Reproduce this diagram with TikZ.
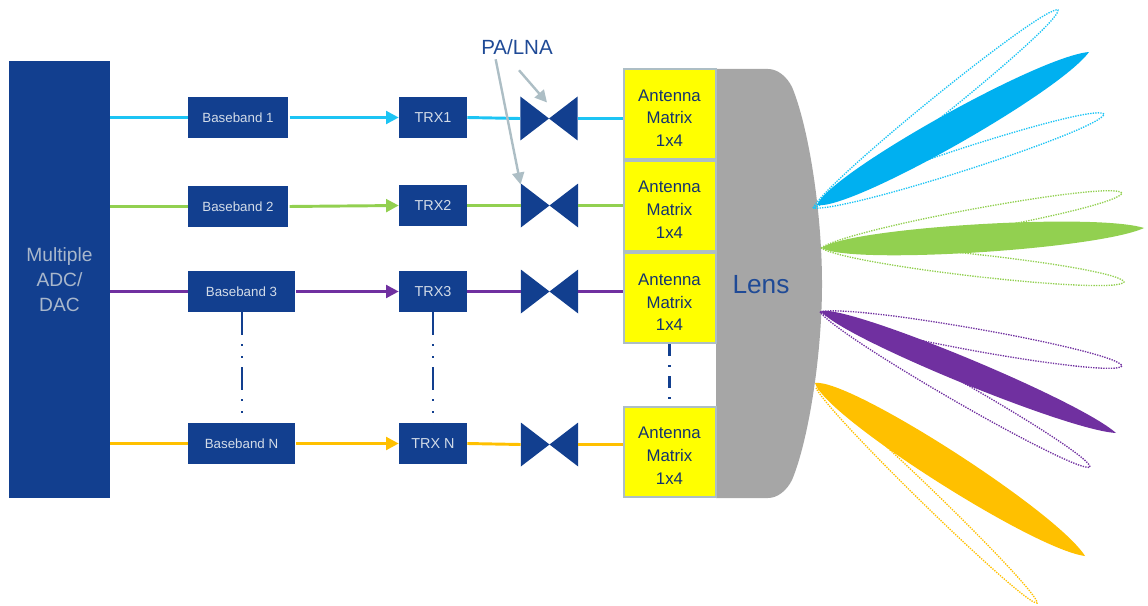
\documentclass[tikz,border=0pt]{standalone}
\usepackage{fontspec}
\setmainfont{Liberation Sans}
\usepackage{tikz}
\usetikzlibrary{positioning,arrows.meta,calc}

\definecolor{boxblue}{HTML}{123F8F}
\definecolor{boxtext}{HTML}{D3DCE8}
\definecolor{adctext}{HTML}{A9B7CB}
\definecolor{labelblue}{HTML}{1F4A96}
\definecolor{antblue}{HTML}{14336F}
\definecolor{antyellow}{HTML}{FFFF00}
\definecolor{paleline}{HTML}{ADBEC5}
\definecolor{lensgray}{HTML}{A6A6A6}
\definecolor{bluefeed}{HTML}{1CC4F4}
\definecolor{bluelobe}{HTML}{00B0F0}
\definecolor{greenlobe}{HTML}{92D050}
\definecolor{purplelobe}{HTML}{7030A0}
\definecolor{orangelobe}{HTML}{FFC000}

% filled leaf: start, tip, bulge
\newcommand{\lobepath}[3]{#1 .. controls ($#1!0.08!#2!#3!90:#2$) and ($#1!0.85!#2!#3!90:#2$) .. #2
  .. controls ($#1!0.85!#2!#3!-90:#2$) and ($#1!0.08!#2!#3!-90:#2$) .. #1 -- cycle}
% dotted outline, round at the far end
\newcommand{\beampath}[3]{#1 .. controls ($#1!0.1!#2!#3!90:#2$) and ($#1!0.98!#2!#3!90:#2$) .. #2
  .. controls ($#1!0.98!#2!#3!-90:#2$) and ($#1!0.1!#2!#3!-90:#2$) .. #1 -- cycle}

\begin{document}
\begin{tikzpicture}[x=0.75pt,y=-0.75pt,
  block/.style={fill=boxblue,text=boxtext,inner sep=0pt,align=center},
  bbbox/.style={block,minimum height=30.5pt,font=\fontsize{10}{12}\selectfont},
  trxbox/.style={block,minimum width=51pt,minimum height=30.5pt,font=\fontsize{10.8}{13}\selectfont},
  antbox/.style={draw=paleline,line width=1.5pt,fill=antyellow,text=antblue,minimum width=69pt,minimum height=67.5pt,
    inner sep=0pt,align=center,font=\fontsize{12.6}{17}\selectfont},
  bowtie/.style={minimum width=43pt,minimum height=33pt,inner sep=0pt,
    path picture={\fill[boxblue] (path picture bounding box.north west) -- (path picture bounding box.south east)
      -- (path picture bounding box.north east) -- (path picture bounding box.south west) -- cycle;}},
  feed/.style={line width=2.2pt},
  feedarrow/.style={feed,-{Triangle[length=9.5pt,width=9.5pt]},shorten <=1pt},
  vdots/.style={boxblue,line width=1.5pt,dash pattern=on 17pt off 7pt on 1.5pt off 7.5pt on 1.5pt off 7pt},
  antdots/.style={boxblue,line width=1.8pt,dash pattern=on 9pt off 6.75pt on 1.5pt off 6.75pt},
  pointer/.style={paleline,line width=1.8pt,-{Triangle[length=9pt,width=9pt]}},
  beam/.style={line width=1pt,dash pattern=on 1pt off 0.9pt}]

\useasboundingbox (0,0) rectangle (1148,606);

% lens
\fill[lensgray] (716,69) -- (768,69) .. controls (778,69) and (787,77) .. (792,87)
  .. controls (808,125) and (822,210) .. (822,284)
  .. controls (822,357) and (808,442) .. (792,480)
  .. controls (787,490) and (778,498) .. (768,498) -- (716,498) -- cycle;
\node[text=labelblue,font=\fontsize{19.7}{22}\selectfont] (lens) at (761,285) {Lens};

\node[block,minimum width=75.75pt,minimum height=327.75pt,text=adctext,font=\fontsize{14.4}{19}\selectfont] (adc) at (59.5,279.5) {Multiple\\ADC/\\DAC};

\node[bbbox,minimum width=75pt] (bb1) at (238,117.5) {Baseband 1};
\node[bbbox,minimum width=75pt] (bb2) at (238,206.5) {Baseband 2};
\node[bbbox,minimum width=80pt] (bb3) at (241.5,291.5) {Baseband 3};
\node[bbbox,minimum width=80pt] (bb4) at (241.5,443.5) {Baseband N};

\node[trxbox] (trx1) at (433,117.5) {TRX1};
\node[trxbox] (trx2) at (433,205.5) {TRX2};
\node[trxbox] (trx3) at (433,291.5) {TRX3};
\node[trxbox] (trx4) at (433,443.5) {TRX N};

\node[bowtie] (pa1) at (549,118.5) {};
\node[bowtie] (pa2) at (549.5,205.5) {};
\node[bowtie] (pa3) at (549.5,291.5) {};
\node[bowtie] (pa4) at (549.5,444.5) {};

\node[antbox] (ant1) at (669.5,114) {\rule{0pt}{15pt}Antenna\\Matrix\\1x4};
\node[antbox] (ant2) at (669.5,205.5) {\rule{0pt}{15pt}Antenna\\Matrix\\1x4};
\node[antbox] (ant3) at (669.5,298) {\rule{0pt}{15pt}Antenna\\Matrix\\1x4};
\node[antbox] (ant4) at (669.5,451.5) {\rule{0pt}{15pt}Antenna\\Matrix\\1x4};

\node[text=labelblue,font=\fontsize{15.4}{18}\selectfont] (pal) at (517,47) {PA/LNA};

\foreach \i/\c in {1/bluefeed,2/greenlobe,3/purplelobe,4/orangelobe}{
  \draw[feed,\c] (adc.east |- bb\i.west) -- (bb\i.west);
  \draw[feedarrow,\c] (bb\i.east) -- (trx\i.west);
  \draw[feed,\c] (trx\i.east) -- (pa\i.west);
  \draw[feed,\c] (pa\i.east) -- (pa\i.east -| ant\i.west);
}

\draw[vdots] (bb3) -- (bb4);
\draw[vdots] (trx3) -- (trx4);
\draw[antdots] (ant3.south) -- (ant4.north);

\draw[pointer] ([shift={(2,11)}]pal.south) -- ([shift={(-2,-16)}]pa1.center);
\draw[pointer] ([xshift=-16pt]pal.south) -- ([yshift=-1pt]pa2.north west);

% beams
\draw[beam,bluefeed] \beampath{(813,208)}{(1058,10)}{10pt};
\draw[beam,bluefeed] \beampath{(813,208)}{(1104,114)}{11pt};
\fill[bluelobe] \lobepath{(817,205)}{(1089,52)}{16pt};

\draw[beam,greenlobe] \beampath{(821,248)}{(1122,193)}{11pt};
\draw[beam,greenlobe] \beampath{(821,248)}{(1124,282)}{11pt};
\fill[greenlobe] \lobepath{(822,248)}{(1144,228)}{14pt};

\draw[beam,purplelobe] \beampath{(820,312)}{(1122,366)}{11pt};
\draw[beam,purplelobe] \beampath{(820,312)}{(1090,467)}{10pt};
\fill[purplelobe] \lobepath{(821,311)}{(1116,433)}{12.5pt};

\draw[beam,orangelobe] \beampath{(816,388)}{(1037,603)}{8pt};
\fill[orangelobe] \lobepath{(815,383)}{(1085,556)}{17pt};
\end{tikzpicture}
\end{document}
